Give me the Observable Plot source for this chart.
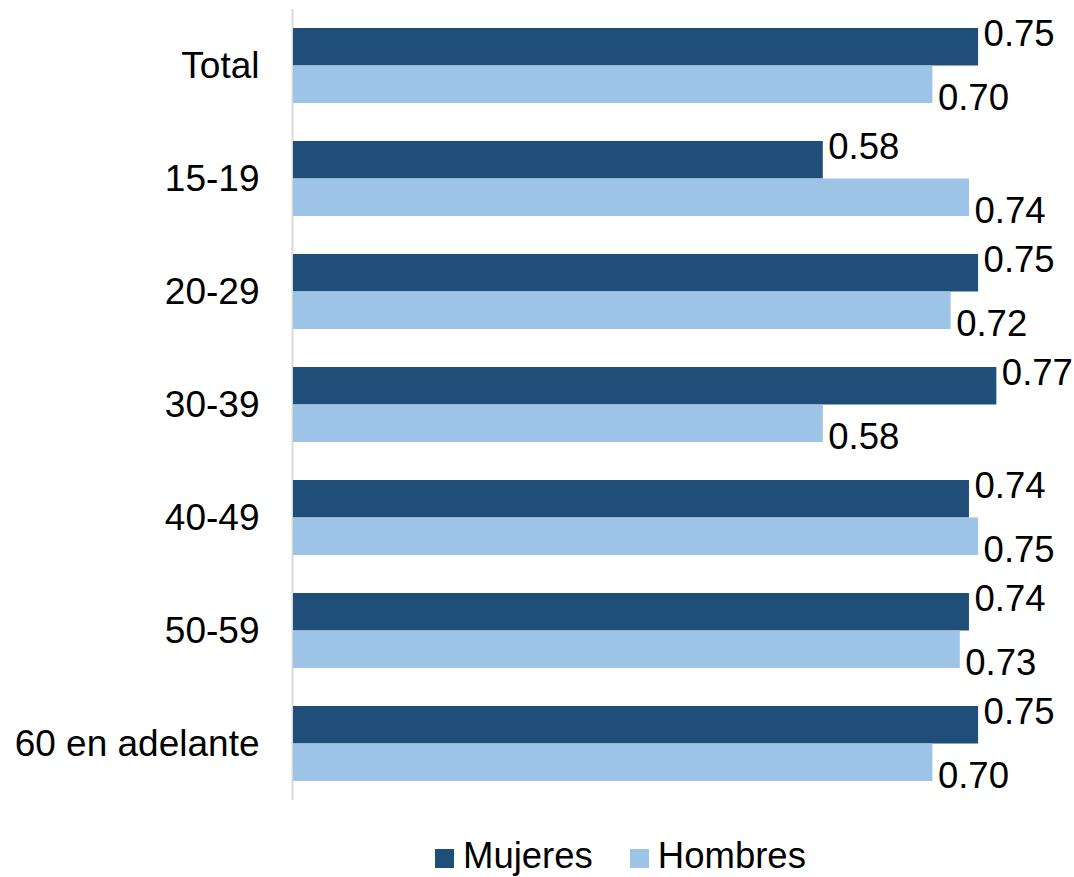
<!DOCTYPE html>
<html>
<head>
<meta charset="utf-8">
<script src="https://cdn.jsdelivr.net/npm/d3@7"></script>
<script src="https://cdn.jsdelivr.net/npm/@observablehq/plot@0.6"></script>
<style>
  html, body { margin: 0; padding: 0; background: #fff; }
  body { width: 1074px; height: 877px; overflow: hidden; font-family: "Liberation Sans", Arial, sans-serif; }
  #legend { display: flex; align-items: center; margin-left: 435px; padding-top: 6px; height: 40px; line-height: 40px; font-size: 36.5px; color: #000; }
  .sw { width: 19px; height: 19px; display: inline-block; position: relative; top: 2px; margin-right: 9px; }
  .item { display: flex; align-items: center; margin-right: 37px; }
</style>
</head>
<body>
<div id="chart"></div>
<div id="legend"></div>
<script>
const categories = ["Total", "15-19", "20-29", "30-39", "40-49", "50-59", "60 en adelante"];
const mujeres = [0.75, 0.58, 0.75, 0.77, 0.74, 0.74, 0.75];
const hombres = [0.70, 0.74, 0.72, 0.58, 0.75, 0.73, 0.70];
const seriesNames = ["Mujeres", "Hombres"];
const seriesColors = ["#1F4E79", "#9DC3E6"];

const dataM = categories.map((c, i) => ({category: c, value: mujeres[i]}));
const dataH = categories.map((c, i) => ({category: c, value: hombres[i]}));
const fmt = d3.format(".2f");
const half = 37.5;

const chart = Plot.plot({
  width: 1074,
  height: 830,
  marginLeft: 293,
  marginRight: 0,
  marginTop: 9,
  marginBottom: 30,
  style: {fontFamily: "'Liberation Sans', Arial, sans-serif", fontSize: "36px", color: "#000", background: "#fff"},
  x: {domain: [0, 0.855], axis: null},
  y: {domain: categories, paddingInner: 0.336, paddingOuter: 0.168, axis: null},
  marks: [
    Plot.ruleX([0], {stroke: "#D9D9D9", strokeWidth: 2, dx: -1}),
    Plot.barX(dataM, {x: "value", y: "category", fill: seriesColors[0], insetBottom: half}),
    Plot.barX(dataH, {x: "value", y: "category", fill: seriesColors[1], insetTop: half}),
    Plot.text(dataM, {x: "value", y: "category", text: d => fmt(d.value), textAnchor: "start", dx: 5, dy: -31.5, fill: "#000", fontSize: 36.5}),
    Plot.text(dataH, {x: "value", y: "category", text: d => fmt(d.value), textAnchor: "start", dx: 5, dy: 32, fill: "#000", fontSize: 36.5}),
    Plot.axisY({tickSize: 0, tickPadding: 34, fontSize: 37, label: null, fill: "#000"})
  ]
});
document.getElementById("chart").appendChild(chart);

const legend = document.getElementById("legend");
seriesNames.forEach((name, i) => {
  const item = document.createElement("div");
  item.className = "item";
  const sw = document.createElement("span");
  sw.className = "sw";
  sw.style.background = seriesColors[i];
  const label = document.createElement("span");
  label.textContent = name;
  item.appendChild(sw);
  item.appendChild(label);
  legend.appendChild(item);
});
</script>
</body>
</html>
